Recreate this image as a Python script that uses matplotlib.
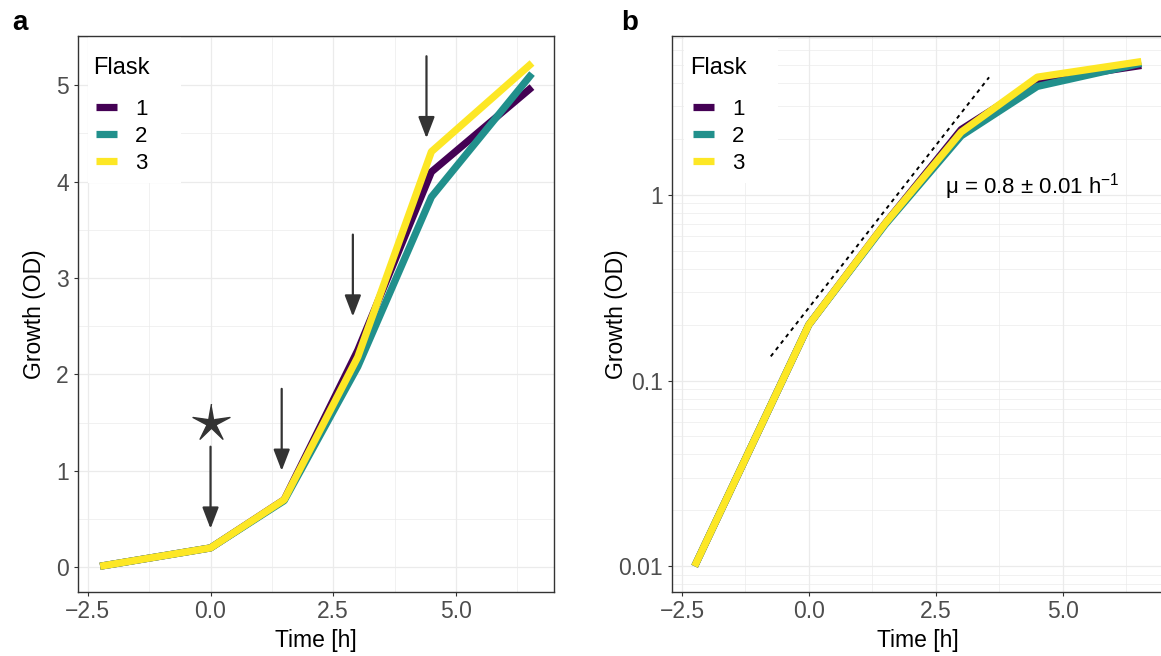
import numpy as np
import matplotlib
matplotlib.use('Agg')
import matplotlib.pyplot as plt
from matplotlib.lines import Line2D
from matplotlib.patches import Rectangle
from matplotlib.ticker import MultipleLocator, LogLocator, NullFormatter, FuncFormatter

plt.rcParams['font.family'] = ['Liberation Sans', 'DejaVu Sans']
plt.rcParams['mathtext.fontset'] = 'custom'
plt.rcParams['mathtext.rm'] = 'Liberation Sans'
plt.rcParams['mathtext.it'] = 'Liberation Sans:italic'

# --- data ---
time_h = [-2.25, 0.0, 1.5, 3.0, 4.5, 6.55]
od_flask1 = [0.01, 0.2, 0.7, 2.25, 4.10, 4.98]
od_flask2 = [0.01, 0.2, 0.69, 2.08, 3.84, 5.12]
od_flask3 = [0.01, 0.2, 0.7, 2.18, 4.31, 5.23]
flask_labels = ['1', '2', '3']
flask_colors = ['#440154', '#21908C', '#FDE725']

# sampling / feeding annotations in panel a
arrow_t = [0.0, 1.45, 2.9, 4.4]
arrow_from = [1.25, 1.85, 3.45, 5.3]
arrow_to = [0.4, 1.0, 2.6, 4.45]
star_t = [0.0]
star_od = [1.5]

# exponential fit shown in panel b
fit_t = [-0.75, 3.55]
fit_od = [0.135, 4.3]
mu_label = r'μ = 0.8 ± 0.01 h$^{-1}$'

W, H = 1161, 656
fig = plt.figure(figsize=(W / 100, H / 100), dpi=100)

AX_TOP, AX_BOT = 36, 591.5


def px_axes(l, r):
    return fig.add_axes([l / W, 1 - AX_BOT / H, (r - l) / W, (AX_BOT - AX_TOP) / H])


def style(ax, left_px, right_px, ylab_px):
    for s in ax.spines.values():
        s.set_color('#333333')
        s.set_linewidth(1.0)
    ax.tick_params(which='major', length=3, width=0.8, color='#333333',
                   labelsize=16.5, labelcolor='#4D4D4D')
    ax.tick_params(axis='y', which='major', pad=4)
    ax.tick_params(axis='x', which='major', pad=3)
    ax.tick_params(which='minor', length=0)
    ax.grid(which='major', color='#EBEBEB', lw=0.9)
    ax.grid(which='minor', color='#EBEBEB', lw=0.5)
    ax.set_axisbelow(True)
    ax.xaxis.set_major_locator(MultipleLocator(2.5))
    ax.xaxis.set_minor_locator(MultipleLocator(1.25))
    ax.set_xlim(-2.69, 6.99)
    ax.set_xlabel('Time [h]', fontsize=16.5, va='center')
    ax.set_ylabel('Growth (OD)', fontsize=16.5, va='center')
    ax.xaxis.set_label_coords(0.5, (AX_BOT - 640) / (AX_BOT - AX_TOP))
    ax.yaxis.set_label_coords((ylab_px - left_px) / (right_px - left_px), 0.5)


def draw_lines(ax):
    for od, c in zip([od_flask1, od_flask2, od_flask3], flask_colors):
        ax.plot(time_h, od, color=c, lw=5.2, solid_capstyle='butt',
                solid_joinstyle='round', zorder=3)


def draw_legend(ax, box, title_xy, anchor):
    x0, y0, x1, y1 = box
    ax.add_patch(Rectangle((x0 / W, 1 - y1 / H), (x1 - x0) / W, (y1 - y0) / H,
                           transform=fig.transFigure, facecolor='white',
                           edgecolor='none', zorder=1.5))
    fig.text(title_xy[0] / W, 1 - title_xy[1] / H, 'Flask', fontsize=17,
             ha='left', va='baseline')
    handles = [Line2D([], [], color=c, lw=5.2, solid_capstyle='butt')
               for c in flask_colors]
    ax.legend(handles, flask_labels, loc='upper left',
              bbox_to_anchor=(anchor[0] / W, 1 - anchor[1] / H),
              bbox_transform=fig.transFigure, frameon=False, borderpad=0,
              borderaxespad=0, handlelength=0.95, handletextpad=0.8,
              labelspacing=0.27, fontsize=16)


# ---------------- panel a ----------------
A_L, A_R = 78.5, 553.6
ax_a = px_axes(A_L, A_R)
style(ax_a, A_L, A_R, 35)
ax_a.set_ylim(-0.252, 5.51)
ax_a.yaxis.set_major_locator(MultipleLocator(1))
ax_a.yaxis.set_minor_locator(MultipleLocator(0.5))
draw_lines(ax_a)

for t, y0, y1 in zip(arrow_t, arrow_from, arrow_to):
    ax_a.annotate('', xy=(t, y1), xytext=(t, y0),
                  arrowprops=dict(arrowstyle='-|>,head_length=0.65,head_width=0.25',
                                  color='#333333', lw=1.6, shrinkA=0, shrinkB=0,
                                  mutation_scale=20), zorder=4)

n = 5
ang = np.pi / 2 + np.arange(2 * n) * np.pi / n
rad = np.where(np.arange(2 * n) % 2 == 0, 1.0, 0.24)
star_marker = np.column_stack([rad * np.cos(ang), rad * np.sin(ang)])
ax_a.plot(star_t, star_od, ls='none', marker=star_marker, markersize=28,
          color='#333333', mec='#333333', zorder=4)

draw_legend(ax_a, (88, 37, 181, 183), (93, 74), (96, 99))
fig.text(12 / W, 1 - 30 / H, 'a', fontsize=20, fontweight='bold',
         ha='left', va='baseline')

# ---------------- panel b ----------------
B_L, B_R = 672.3, 1163.7
ax_b = px_axes(B_L, B_R)
style(ax_b, B_L, B_R, 617)
ax_b.set_yscale('log')
ax_b.set_ylim(10 ** -2.136, 10 ** 0.856)
ax_b.yaxis.set_major_locator(LogLocator(base=10))
ax_b.yaxis.set_major_formatter(FuncFormatter(lambda v, p: f'{v:g}'))
ax_b.yaxis.set_minor_locator(LogLocator(base=10, subs=np.arange(2, 10)))
ax_b.yaxis.set_minor_formatter(NullFormatter())
draw_lines(ax_b)
ax_b.plot(fit_t, fit_od, color='black', lw=1.4, ls=(0, (2, 2.2)), zorder=4)
ax_b.text(2.68, 1.02, mu_label, fontsize=16, ha='left', va='baseline', zorder=5)

draw_legend(ax_b, (684, 37, 778, 183), (690, 74), (693, 99))
fig.text(621 / W, 1 - 30 / H, 'b', fontsize=20, fontweight='bold',
         ha='left', va='baseline')

fig.savefig('out.png', dpi=100)
